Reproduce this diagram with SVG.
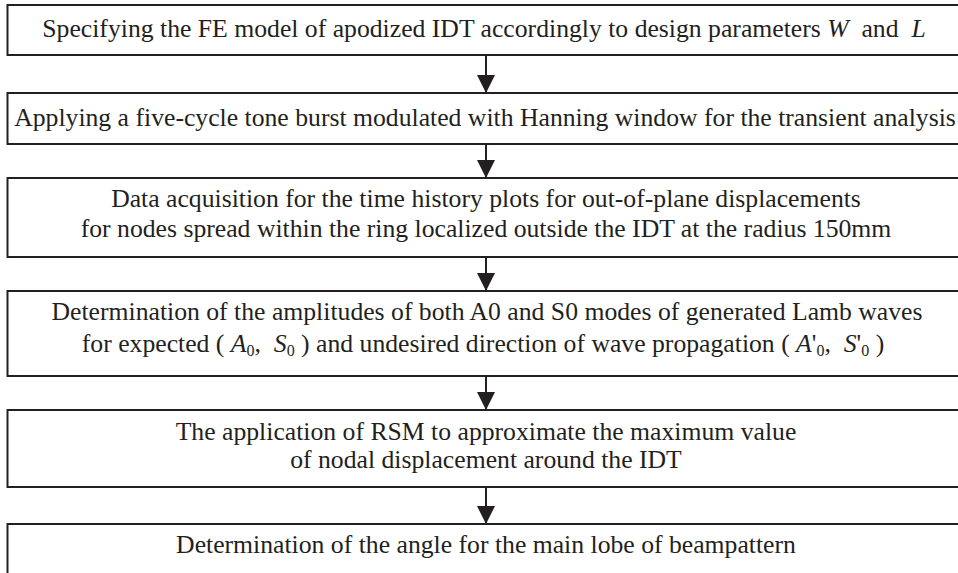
<svg xmlns="http://www.w3.org/2000/svg" width="958" height="573" viewBox="0 0 958 573">
<style>
.box{fill:#fff;stroke:#231f20;stroke-width:2}
.t{font-family:"Liberation Serif","Times New Roman",serif;font-size:25.7px;fill:#231f20;text-anchor:middle}
.i{font-style:italic}
.s{font-size:16px}
.c{stroke:#231f20;stroke-width:2;fill:none}
</style>
<defs>
<marker id="ah" markerUnits="userSpaceOnUse" markerWidth="20" markerHeight="20" viewBox="0 0 20 20" refX="18" refY="10" orient="auto">
<path d="M0,1 L18,10 L0,19 Z" fill="#231f20"/>
</marker>
</defs>
<rect width="958" height="573" fill="#fff"/>
<g id="connectors">
<line class="c" x1="486" y1="55" x2="486" y2="93" marker-end="url(#ah)"/>
<line class="c" x1="486" y1="144" x2="486" y2="178" marker-end="url(#ah)"/>
<line class="c" x1="486" y1="257" x2="486" y2="291" marker-end="url(#ah)"/>
<line class="c" x1="486" y1="376" x2="486" y2="410" marker-end="url(#ah)"/>
<line class="c" x1="486" y1="487" x2="486" y2="524" marker-end="url(#ah)"/>
</g>
<g id="n1">
<rect class="box" x="7.5" y="5" width="965" height="50"/>
<text class="t" x="484" y="37">Specifying the FE model of apodized IDT accordingly to design parameters <tspan class="i">W</tspan>&#160; and&#160; <tspan class="i">L</tspan></text>
</g>
<g id="n2">
<rect class="box" x="7.5" y="93" width="965" height="51"/>
<text class="t" x="485" y="126">Applying a five-cycle tone burst modulated with Hanning window for the transient analysis</text>
</g>
<g id="n3">
<rect class="box" x="7.5" y="178" width="965" height="79"/>
<text class="t" x="486" y="207">Data acquisition for the time history plots for out-of-plane displacements</text>
<text class="t" x="486" y="237">for nodes spread within the ring localized outside the IDT at the radius 150mm</text>
</g>
<g id="n4">
<rect class="box" x="7.5" y="291" width="965" height="85"/>
<text class="t" x="487" y="320">Determination of the amplitudes of both A0 and S0 modes of generated Lamb waves</text>
<text class="t" x="483" y="352">for expected ( <tspan class="i">A</tspan><tspan class="s" dy="4">0</tspan><tspan dy="-4">,&#160; </tspan><tspan class="i">S</tspan><tspan class="s" dy="4">0</tspan><tspan dy="-4"> ) and undesired direction of wave propagation ( </tspan><tspan class="i">A</tspan><tspan>'</tspan><tspan class="s" dy="4">0</tspan><tspan dy="-4">,&#160; </tspan><tspan class="i">S</tspan><tspan>'</tspan><tspan class="s" dy="4">0</tspan><tspan dy="-4"> )</tspan></text>
</g>
<g id="n5">
<rect class="box" x="7.5" y="410" width="965" height="77"/>
<text class="t" x="486" y="440">The application of RSM to approximate the maximum value</text>
<text class="t" x="486" y="468">of nodal displacement around the IDT</text>
</g>
<g id="n6">
<rect class="box" x="7.5" y="524" width="965" height="80"/>
<text class="t" x="486" y="553">Determination of the angle for the main lobe of beampattern</text>
</g>
</svg>
